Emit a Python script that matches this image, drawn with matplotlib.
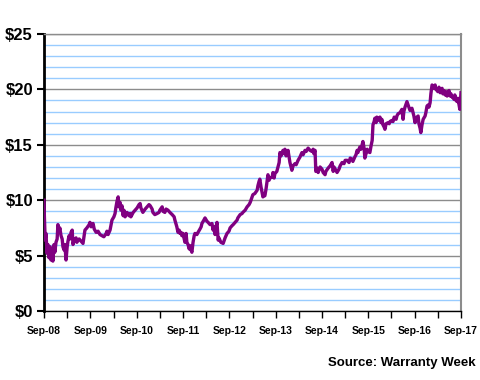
import matplotlib
matplotlib.use("Agg")
import matplotlib.pyplot as plt
import numpy as np

# months since Sep-2008 and share price in dollars
months = [0.0, 0.1, 0.3, 0.5, 0.8, 1.0, 1.3, 1.6, 1.8, 2.1, 2.3, 2.6, 2.8, 3.1, 3.4, 3.6, 3.9, 4.1, 4.4, 4.7,
          4.9, 5.2, 5.4, 5.7, 6.0, 6.2, 6.5, 6.7, 7.0, 7.3, 7.5, 7.8, 8.3, 8.5, 9.1, 9.6, 10.1, 10.6, 11.1, 11.7,
          11.9, 12.2, 12.7, 13.0, 13.5, 14.0, 14.5, 15.0, 15.5, 16.1, 16.3, 16.6, 17.1, 17.6, 18.1, 18.4, 18.6, 18.9, 19.2, 19.4,
          19.7, 19.9, 20.2, 20.5, 20.7, 21.0, 21.5, 22.0, 22.3, 22.5, 23.1, 23.6, 24.1, 24.6, 24.9, 25.1, 25.6, 26.2, 26.7, 27.2,
          27.5, 28.0, 28.2, 28.7, 29.3, 29.8, 30.0, 30.6, 30.8, 31.3, 31.6, 32.1, 32.6, 33.2, 33.7, 33.9, 34.4, 34.7, 35.0, 35.2,
          35.5, 35.7, 36.0, 36.3, 36.5, 36.8, 37.0, 37.3, 37.6, 37.8, 38.1, 38.3, 38.6, 38.9, 39.1, 39.6, 39.9, 40.4, 40.7, 40.9,
          41.4, 41.7, 42.2, 42.5, 43.0, 43.5, 43.8, 44.0, 44.3, 44.5, 44.8, 45.1, 45.3, 45.8, 46.4, 46.6, 46.9, 47.4, 47.9, 48.2,
          48.7, 49.0, 49.5, 50.0, 50.2, 50.8, 51.3, 51.5, 52.1, 52.6, 53.1, 53.4, 53.9, 54.1, 54.6, 55.2, 55.4, 55.7, 55.9, 56.2,
          56.7, 57.0, 57.2, 57.5, 58.0, 58.3, 58.5, 59.1, 59.3, 59.6, 59.8, 60.3, 60.6, 60.9, 61.1, 61.4, 61.9, 62.2, 62.4, 62.7,
          62.9, 63.2, 63.5, 63.7, 64.0, 64.2, 64.5, 65.0, 65.3, 65.8, 66.3, 66.8, 67.1, 67.6, 67.9, 68.4, 68.9, 69.4, 69.7, 69.9,
          70.2, 70.4, 70.7, 71.0, 71.5, 72.0, 72.3, 72.8, 73.0, 73.6, 74.1, 74.6, 74.9, 75.1, 75.6, 75.9, 76.4, 76.7, 77.2, 77.7,
          78.0, 78.5, 79.0, 79.3, 79.8, 80.0, 80.5, 80.8, 81.1, 81.3, 81.8, 82.1, 82.6, 82.9, 83.1, 83.4, 83.7, 83.9, 84.4, 84.7,
          85.0, 85.2, 85.5, 85.7, 86.0, 86.2, 86.5, 87.0, 87.3, 87.5, 87.8, 88.1, 88.3, 88.6, 89.1, 89.4, 89.6, 90.1, 90.4, 90.7,
          91.2, 91.4, 91.7, 92.2, 92.7, 93.0, 93.2, 93.5, 94.0, 94.3, 94.5, 94.8, 95.3, 95.6, 95.8, 96.1, 96.3, 96.9, 97.1, 97.4,
          97.6, 97.9, 98.2, 98.7, 98.9, 99.2, 99.5, 99.7, 100.0, 100.2, 100.5, 100.8, 101.0, 101.3, 101.5, 101.8, 102.0, 102.3, 102.6, 102.8,
          103.1, 103.3, 103.6, 103.9, 104.1, 104.4, 104.6, 104.9, 105.2, 105.4, 105.7, 105.9, 106.2, 106.4, 106.7, 107.0, 107.2, 107.5, 107.7, 108.0]
price = [10.0, 8.5, 6.4, 7.0, 5.2, 6.0, 4.8, 5.8, 4.6, 5.5, 4.5, 6.0, 5.3, 6.2, 6.5, 7.8, 7.2, 7.5, 6.8, 6.5,
         5.8, 5.5, 6.0, 4.6, 5.8, 6.3, 6.8, 6.5, 7.1, 7.3, 6.0, 6.4, 6.6, 6.2, 6.5, 6.3, 6.1, 7.3, 7.5, 7.8,
         8.0, 7.6, 7.9, 7.4, 7.1, 7.2, 6.9, 6.8, 6.7, 7.0, 7.2, 6.9, 7.3, 8.2, 8.5, 8.8, 9.3, 9.9, 10.3, 9.4,
         9.8, 9.1, 9.5, 8.6, 9.1, 8.5, 8.9, 8.6, 8.8, 8.5, 8.9, 9.1, 9.3, 9.6, 9.7, 9.3, 8.9, 9.2, 9.4, 9.6,
         9.5, 9.2, 8.9, 8.7, 8.8, 8.9, 9.1, 9.4, 9.0, 8.9, 9.2, 9.1, 8.9, 8.7, 8.5, 8.2, 7.6, 7.1, 7.3, 7.0,
         7.1, 6.8, 7.0, 6.5, 6.2, 7.0, 6.2, 6.0, 5.6, 5.9, 5.5, 5.3, 6.2, 6.8, 7.0, 6.9, 7.1, 7.4, 7.6, 7.9,
         8.2, 8.4, 8.1, 8.0, 7.8, 7.9, 7.3, 7.6, 6.9, 7.5, 8.0, 6.4, 6.6, 6.2, 6.1, 6.3, 6.6, 7.0, 7.2, 7.5,
         7.7, 7.8, 8.0, 8.2, 8.4, 8.7, 8.8, 8.9, 9.1, 9.4, 9.6, 9.8, 10.3, 10.5, 10.6, 10.9, 11.3, 11.7, 11.9, 11.2,
         10.3, 10.5, 10.4, 11.0, 12.3, 11.8, 12.0, 12.1, 12.5, 12.0, 12.4, 12.6, 13.0, 13.4, 14.3, 14.0, 14.5, 14.2, 14.6, 14.0,
         14.1, 14.5, 13.8, 13.4, 13.0, 12.7, 13.1, 13.3, 13.2, 13.6, 13.9, 14.3, 14.1, 14.5, 14.4, 14.7, 14.5, 14.4, 14.6, 14.2,
         14.5, 12.6, 12.9, 12.5, 13.0, 12.8, 12.5, 12.3, 12.6, 12.9, 13.1, 13.4, 12.6, 13.0, 12.7, 12.5, 12.8, 13.1, 13.4, 13.3,
         13.6, 13.6, 13.4, 13.8, 13.7, 13.5, 13.9, 14.1, 14.5, 14.3, 14.8, 14.6, 15.3, 14.7, 13.8, 14.2, 14.6, 14.4, 14.3, 14.9,
         15.4, 16.8, 17.1, 17.4, 17.0, 17.5, 17.2, 17.5, 17.0, 17.3, 16.8, 16.6, 16.4, 16.9, 17.0, 16.9, 17.1, 17.2, 17.1, 17.5,
         17.3, 17.6, 17.8, 17.9, 18.2, 17.3, 18.0, 18.4, 18.9, 18.6, 18.4, 18.1, 18.3, 17.9, 17.6, 17.0, 17.4, 17.6, 16.9, 16.5,
         16.1, 16.8, 17.3, 17.6, 17.9, 18.5, 18.6, 18.4, 18.8, 19.6, 20.4, 20.3, 20.1, 20.4, 20.0, 19.9, 19.8, 20.2, 19.7, 20.0,
         20.1, 19.6, 19.9, 19.5, 19.8, 19.4, 19.7, 19.9, 19.4, 19.6, 19.3, 19.3, 19.1, 19.5, 19.0, 18.9, 19.2, 18.6, 18.2, 19.7]

tick_labels = ["Sep-08", "Sep-09", "Sep-10", "Sep-11", "Sep-12", "Sep-13", "Sep-14", "Sep-15", "Sep-16", "Sep-17"]
y_labels = ["$0", "$5", "$10", "$15", "$20", "$25"]

fig = plt.figure(figsize=(4.8, 3.8), dpi=100)
ax = fig.add_axes([0.0917, 0.1816, 0.8687, 0.7289])

ax.plot(months, price, color="#800080", lw=2.4, zorder=3)

ax.set_xlim(0, 108)
ax.set_ylim(0, 25)

ax.set_yticks(np.arange(0, 26, 5))
ax.set_yticklabels(y_labels, fontfamily="Liberation Sans", fontweight="bold", fontsize=12)
ax.set_yticks(np.arange(0, 26, 1), minor=True)
ax.set_xticks(np.arange(0, 109, 12))
ax.set_xticklabels(tick_labels, fontfamily="Liberation Sans", fontweight="bold", fontsize=7.5)
ax.set_xticks(np.arange(6, 109, 12), minor=True)

ax.grid(True, which="minor", axis="y", color="#99ccff", lw=1)
ax.grid(True, which="major", axis="y", color="#8c8c8c", lw=1)
ax.set_axisbelow(True)

ax.tick_params(axis="y", which="major", direction="out", length=5, width=1.5, pad=3, colors="black")
ax.tick_params(axis="y", which="minor", length=0)
ax.tick_params(axis="x", which="both", direction="out", length=5, width=1, pad=6, colors="black")

ax.spines["left"].set_linewidth(2)
ax.spines["left"].set_color("black")
ax.spines["bottom"].set_linewidth(1)
ax.spines["bottom"].set_color("black")
ax.spines["right"].set_color("#8c8c8c")
ax.spines["right"].set_linewidth(1.5)
ax.spines["top"].set_color("#8c8c8c")
ax.spines["top"].set_linewidth(1)

fig.text(0.99, 0.038, "Source: Warranty Week", ha="right", va="baseline",
         fontfamily="Liberation Sans", fontweight="bold", fontsize=9.5)

fig.savefig("out.png", dpi=100)
